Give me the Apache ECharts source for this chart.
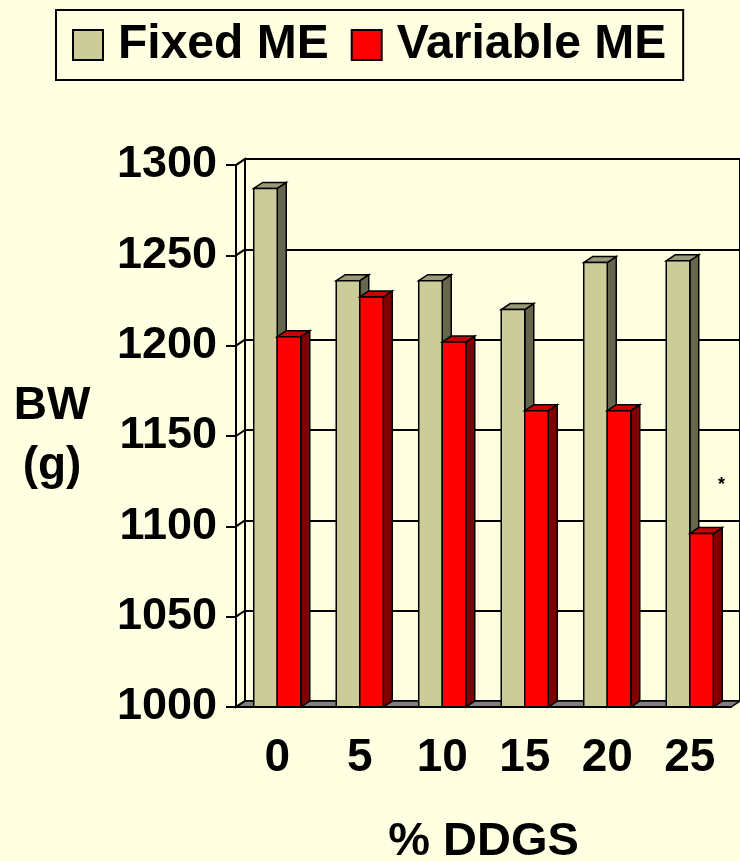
<!DOCTYPE html>
<html>
<head>
<meta charset="utf-8">
<script src="https://cdn.jsdelivr.net/npm/echarts@6/dist/echarts.min.js"></script>
<style>
html,body{margin:0;padding:0;background:#ffffe1;}
#chart{width:740px;height:861px;}
</style>
</head>
<body>
<div id="chart"></div>
<script>
// % DDGS levels
var categories = ['0', '5', '10', '15', '20', '25'];
// body weight (g)
var fixedME = [1287, 1236, 1236, 1220, 1246, 1247];
var variableME = [1205, 1227, 1202, 1164, 1164, 1096];
var yMin = 1000, yMax = 1300, yStep = 50;

var BG = '#ffffe1';
var DX = 9, DY = -6; // depth of the 3d look

function toData(arr) {
  return arr.map(function (v, i) { return [i, v]; });
}

// draws one 3d column: front, right side and top
function columnRenderer(leftSide, front, top, dark) {
  return function (params, api) {
    var idx = api.value(0);
    var pTop = api.coord([idx, api.value(1)]);
    var pBase = api.coord([idx, yMin]);
    var bw = api.size([1, 0])[0] * 0.285;
    var x0 = leftSide ? pTop[0] - bw : pTop[0];
    var x1 = x0 + bw;
    var yt = pTop[1], yb = pBase[1];
    var st = function (c) { return { fill: c, stroke: '#000', lineWidth: 1.5 }; };
    return {
      type: 'group',
      children: [
        { type: 'polygon', shape: { points: [[x1, yt], [x1 + DX, yt + DY], [x1 + DX, yb + DY], [x1, yb]] }, style: st(dark) },
        { type: 'polygon', shape: { points: [[x0, yt], [x0 + DX, yt + DY], [x1 + DX, yt + DY], [x1, yt]] }, style: st(top) },
        { type: 'rect', shape: { x: x0, y: yt, width: bw, height: yb - yt }, style: st(front) }
      ]
    };
  };
}

// left wall, floor and the slanted tick joins
function wallRenderer(params, api) {
  var r = params.coordSys;
  var cx = r.x, cy = r.y, cw = r.width, ch = r.height;
  var kids = [
    { type: 'polygon', shape: { points: [[cx, cy], [cx + DX, cy + DY], [cx + DX, cy + ch + DY], [cx, cy + ch]] },
      style: { fill: BG, stroke: '#000', lineWidth: 2 } },
    { type: 'polygon', shape: { points: [[cx, cy + ch], [cx + DX, cy + ch + DY], [cx + cw + DX, cy + ch + DY], [cx + cw, cy + ch]] },
      style: { fill: '#808080', stroke: '#000', lineWidth: 1.5 } }
  ];
  for (var v = yMin; v <= yMax; v += yStep) {
    var y = api.coord([0, v])[1];
    kids.push({ type: 'line', shape: { x1: cx, y1: y, x2: cx + DX, y2: y + DY }, style: { stroke: '#000', lineWidth: 2 } });
  }
  return { type: 'group', children: kids };
}

var chart = echarts.init(document.getElementById('chart'));
var font = 'Liberation Sans, Arial, sans-serif';

chart.setOption({
  backgroundColor: BG,
  animation: false,
  textStyle: { fontFamily: font },
  legend: {
    left: 56,
    top: 10,
    padding: [11, 17, 11, 16],
    itemGap: 22,
    itemWidth: 30,
    itemHeight: 30,
    borderColor: '#000',
    borderWidth: 2,
    icon: 'rect',
    textStyle: { fontSize: 48, fontWeight: 'bold', color: '#000', fontFamily: font, padding: [0, 0, 0, 10] },
    data: [
      { name: 'Fixed ME', itemStyle: { color: '#cccc99', borderColor: '#000', borderWidth: 2 } },
      { name: 'Variable ME', itemStyle: { color: '#ff0000', borderColor: '#000', borderWidth: 2 } }
    ]
  },
  grid: [
    { left: 236, top: 165, width: 495, height: 542, outerBoundsMode: 'none', containLabel: false },
    { left: 245, top: 159, width: 495, height: 542, outerBoundsMode: 'none', containLabel: false,
      show: true, borderColor: '#000', borderWidth: 2, backgroundColor: 'transparent' }
  ],
  xAxis: [
    {
      type: 'category', gridIndex: 0, data: categories,
      name: '% DDGS', nameLocation: 'middle', nameGap: 112,
      nameTextStyle: { fontSize: 47, fontWeight: 'bold', color: '#000', fontFamily: font },
      axisLine: { lineStyle: { color: '#000', width: 2 } },
      axisTick: { length: 8, lineStyle: { color: '#000', width: 2 } },
      axisLabel: { interval: 0, margin: 28, fontSize: 46, fontWeight: 'bold', color: '#000', fontFamily: font },
      z: 5
    },
    { type: 'category', gridIndex: 1, data: categories, show: false }
  ],
  yAxis: [
    {
      type: 'value', gridIndex: 0, min: yMin, max: yMax, interval: yStep,
      name: 'BW\n(g)', nameLocation: 'middle', nameRotate: 0, nameGap: 184,
      nameTextStyle: { fontSize: 46, fontWeight: 'bold', color: '#000', fontFamily: font, align: 'center', verticalAlign: 'middle', lineHeight: 60 },
      axisLine: { show: true, lineStyle: { color: '#000', width: 2 } },
      axisTick: { show: true, length: 10, lineStyle: { color: '#000', width: 2 } },
      axisLabel: { margin: 19, fontSize: 45, fontWeight: 'bold', color: '#000', fontFamily: font,
        formatter: function (v) { return String(v); } },
      splitLine: { show: false },
      z: 5
    },
    {
      type: 'value', gridIndex: 1, min: yMin, max: yMax, interval: yStep,
      axisLine: { show: false }, axisTick: { show: false }, axisLabel: { show: false },
      splitLine: { show: true, lineStyle: { color: '#000', width: 2 } }
    }
  ],
  series: [
    {
      type: 'custom', name: 'walls', xAxisIndex: 0, yAxisIndex: 0, z: 1, silent: true,
      renderItem: wallRenderer, data: [[0, yMin]]
    },
    {
      type: 'custom', name: 'Fixed ME', xAxisIndex: 0, yAxisIndex: 0, z: 3,
      itemStyle: { color: '#cccc99' },
      encode: { x: 0, y: 1 },
      renderItem: columnRenderer(true, '#cccc99', '#999977', '#66664d'),
      data: toData(fixedME)
    },
    {
      type: 'custom', name: 'Variable ME', xAxisIndex: 0, yAxisIndex: 0, z: 3,
      itemStyle: { color: '#ff0000' },
      encode: { x: 0, y: 1 },
      renderItem: columnRenderer(false, '#ff0000', '#cc0000', '#800000'),
      data: toData(variableME)
    }
  ],
  graphic: [
    { type: 'text', left: 718, top: 476, style: { text: '*', fontSize: 18, fontWeight: 'bold', fill: '#000', fontFamily: font } }
  ]
});
</script>
</body>
</html>
